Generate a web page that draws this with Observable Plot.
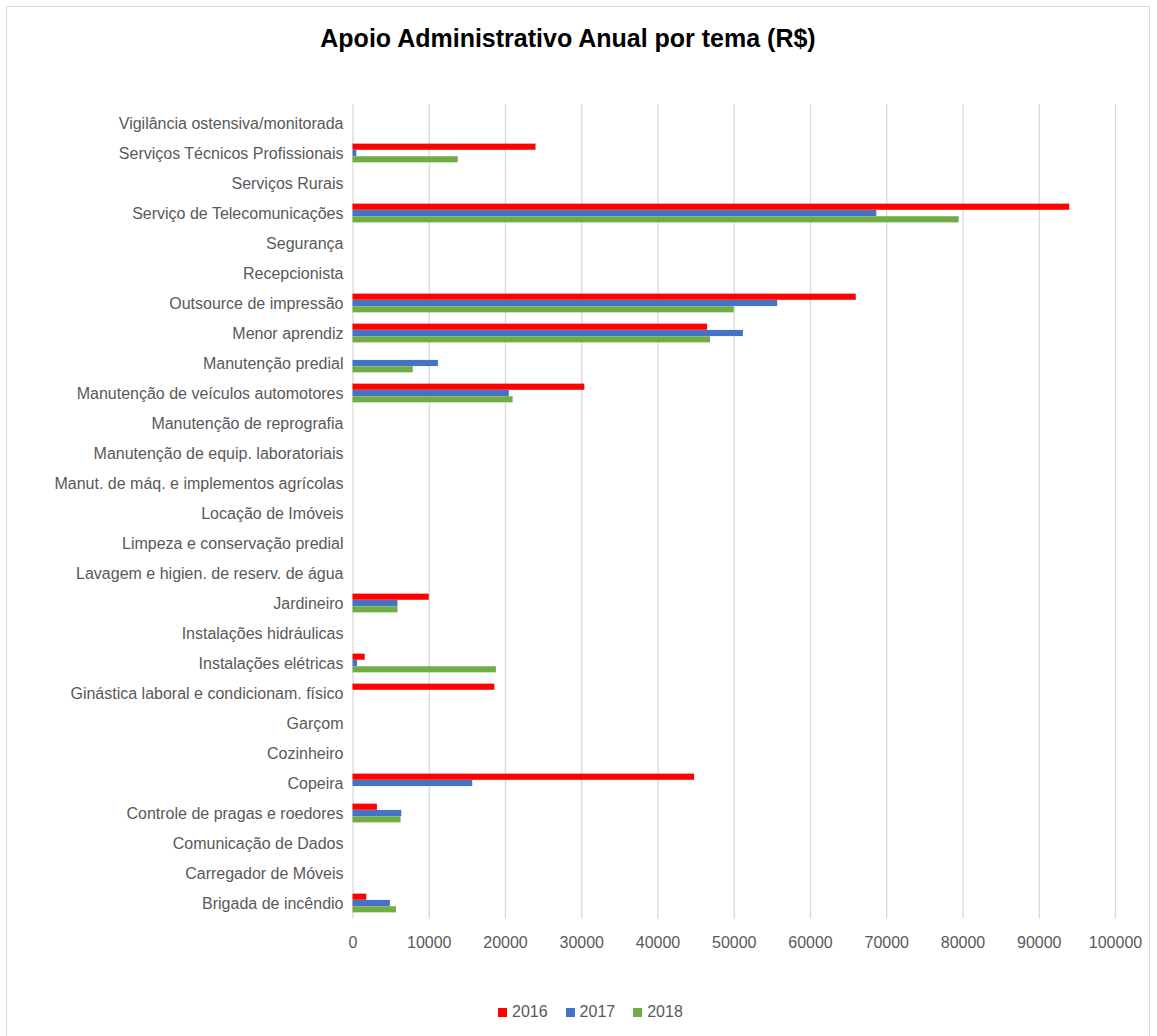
<!DOCTYPE html>
<html>
<head>
<meta charset="utf-8">
<script src="https://cdn.jsdelivr.net/npm/d3@7"></script>
<script src="https://cdn.jsdelivr.net/npm/@observablehq/plot@0.6"></script>
<style>
  html, body { margin: 0; padding: 0; background: #fff; overflow: hidden; }
  #wrap { position: absolute; left: 6px; top: 6px; width: 1144px; height: 1040px; border: 1px solid #d9d9d9; box-sizing: border-box; background: #fff; font-family: "Liberation Sans", Arial, sans-serif; }
  #title { margin-top: 16px; height: 30px; line-height: 30px; text-align: center; font-size: 25px; font-weight: bold; color: #000; padding-right: 20px; }
  #legend { position: absolute; left: 491px; top: 995px; height: 20px; display: flex; align-items: center; font-size: 16px; color: #595959; }
  #legend .item { display: flex; align-items: center; margin-right: 18px; }
  #legend .sw { width: 9px; height: 9px; margin-right: 5px; }
  #chart svg { display: block; }
</style>
</head>
<body>
<div id="wrap">
  <div id="title">Apoio Administrativo Anual por tema (R$)</div>
  <div id="chart"></div>
  <div id="legend"></div>
</div>
<script>
const categories = [
  "Vigilância ostensiva/monitorada",
  "Serviços Técnicos Profissionais",
  "Serviços Rurais",
  "Serviço de Telecomunicações",
  "Segurança",
  "Recepcionista",
  "Outsource de impressão",
  "Menor aprendiz",
  "Manutenção predial",
  "Manutenção de veículos automotores",
  "Manutenção de reprografia",
  "Manutenção de equip. laboratoriais",
  "Manut. de máq. e implementos agrícolas",
  "Locação de Imóveis",
  "Limpeza e conservação predial",
  "Lavagem e higien. de reserv. de água",
  "Jardineiro",
  "Instalações hidráulicas",
  "Instalações elétricas",
  "Ginástica laboral e condicionam. físico",
  "Garçom",
  "Cozinheiro",
  "Copeira",
  "Controle de pragas e roedores",
  "Comunicação de Dados",
  "Carregador de Móveis",
  "Brigada de incêndio"
];
const years = ["2016", "2017", "2018"];
const v2016 = [0, 24000, 0, 94000, 0, 0, 66000, 46500, 0, 30400, 0, 0, 0, 0, 0, 0, 10000, 0, 1600, 18600, 0, 0, 44800, 3200, 0, 0, 1800];
const v2017 = [0, 500, 0, 68700, 0, 0, 55700, 51200, 11200, 20500, 0, 0, 0, 0, 0, 0, 5900, 0, 600, 0, 0, 0, 15700, 6400, 0, 0, 4900];
const v2018 = [0, 13800, 0, 79500, 0, 0, 50000, 46900, 7900, 21000, 0, 0, 0, 0, 0, 0, 5900, 0, 18800, 0, 0, 0, 0, 6300, 0, 0, 5700];
const xTicks = [0, 10000, 20000, 30000, 40000, 50000, 60000, 70000, 80000, 90000, 100000];
const colors = ["#FF0000", "#4472C4", "#70AD47"];

const W = 1142, H = 907;
const mt = 52.5, mb = 40.5, ml = 345.5, mr = 34;
const band = (H - mt - mb) / categories.length;
const barH = 6.3;
const top0 = (band - 3 * barH) / 2;
const seriesVals = [v2016, v2017, v2018];

const barMarks = seriesVals.map((vals, k) =>
  Plot.barX(categories.map((c, i) => ({cat: c, v: vals[i], year: years[k]})), {
    x: "v", y: "cat", fill: colors[k],
    insetTop: top0 + k * barH,
    insetBottom: band - top0 - (k + 1) * barH
  })
);

const chart = Plot.plot({
  width: W, height: H,
  marginTop: mt, marginBottom: mb, marginLeft: ml, marginRight: mr,
  style: {fontFamily: "Liberation Sans, Arial, sans-serif", fontSize: "16px", color: "#595959", background: "transparent", overflow: "visible"},
  x: {domain: [0, 100000], ticks: 10, tickSize: 0, tickPadding: 17, tickFormat: d => String(d), label: null},
  y: {domain: categories, padding: 0, tickSize: 0, tickPadding: 9.5, label: null},
  marks: [
    Plot.ruleX(xTicks, {stroke: "#d9d9d9", strokeWidth: 1.3, insetTop: -1.5, insetBottom: 1}),
    ...barMarks
  ]
});
document.getElementById("chart").appendChild(chart);

const legend = document.getElementById("legend");
years.forEach((y, k) => {
  const it = document.createElement("div");
  it.className = "item";
  it.innerHTML = `<div class="sw" style="background:${colors[k]}"></div><span>${y}</span>`;
  legend.appendChild(it);
});
</script>
</body>
</html>
